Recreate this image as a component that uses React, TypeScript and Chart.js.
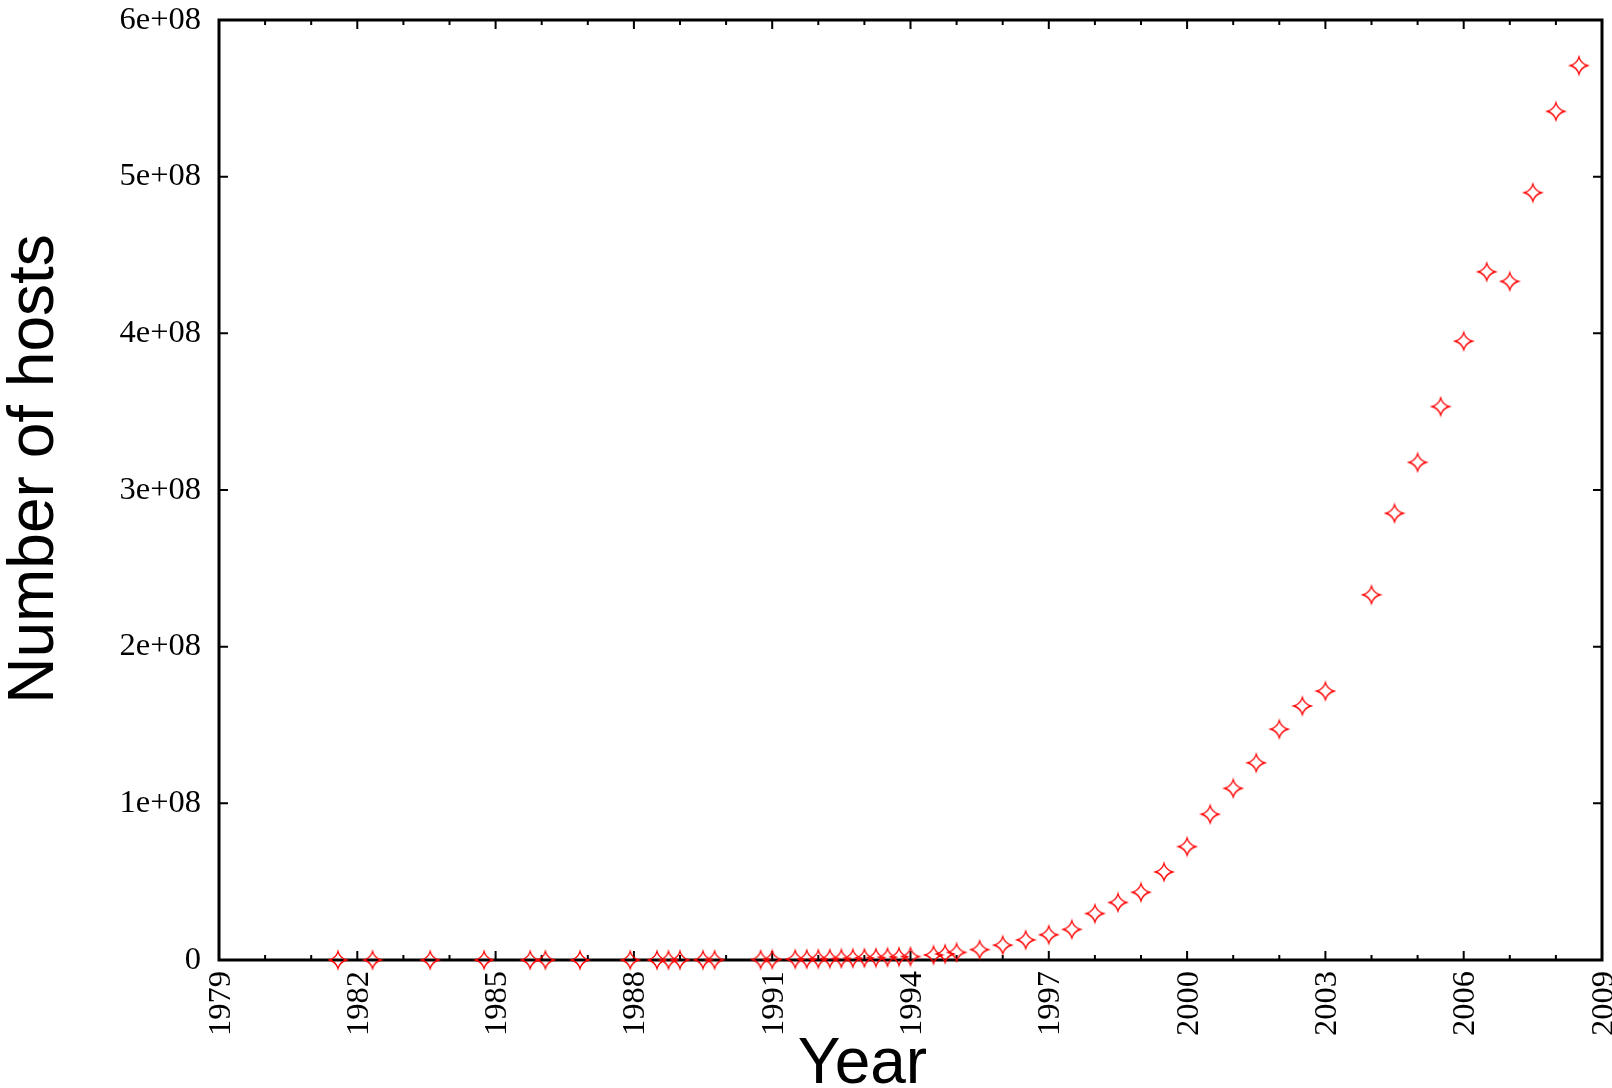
import React, { useEffect, useRef } from "react";
import { Chart, registerables } from "chart.js";

Chart.register(...registerables);

// Survey dates as decimal years (Jan = .0, Jul = .5)
const years: number[] = [
  1981.58, 1982.33, 1983.58, 1984.75, 1985.75, 1986.08, 1986.83, 1987.92,
  1988.5, 1988.75, 1989.0, 1989.5, 1989.75, 1990.75, 1991.0,
  1991.5, 1991.75, 1992.0, 1992.25, 1992.5, 1992.75, 1993.0, 1993.25,
  1993.5, 1993.75, 1994.0, 1994.5, 1994.75, 1995.0, 1995.5,
  1996.0, 1996.5, 1997.0, 1997.5, 1998.0, 1998.5, 1999.0, 1999.5,
  2000.0, 2000.5, 2001.0, 2001.5, 2002.0, 2002.5, 2003.0,
  2004.0, 2004.5, 2005.0, 2005.5, 2006.0, 2006.5, 2007.0, 2007.5,
  2008.0, 2008.5,
];

const hosts: number[] = [
  213, 235, 562, 1024, 1961, 2308, 5089, 28174,
  33000, 56000, 80000, 130000, 159000, 313000, 376000,
  535000, 617000, 727000, 890000, 992000, 1136000, 1313000, 1486000,
  1776000, 2056000, 2217000, 3212000, 3864000, 4852000, 6642000,
  9472000, 12881000, 16146000, 19540000, 29670000, 36739000, 43230000, 56218000,
  72398092, 93047785, 109574429, 125888197, 147344723, 162128493, 171638297,
  233101481, 285139107, 317646084, 353284187, 394991609, 439286364, 433193199, 489774269,
  541677360, 570937778,
];

const xMin = 1979;
const xMax = 2009;
const xStep = 3;
const yMin = 0;
const yMax = 6e8;
const yStep = 1e8;

const xTitle = "Year";
const yTitle = "Number of hosts";

function makeMarker(): HTMLCanvasElement {
  const size = 22;
  const c = document.createElement("canvas");
  c.width = size;
  c.height = size;
  const ctx = c.getContext("2d")!;
  const r = 8.6;
  const k = 0.22 * r;
  ctx.translate(size / 2, size / 2);
  ctx.beginPath();
  ctx.moveTo(0, -r);
  ctx.quadraticCurveTo(k, -k, r, 0);
  ctx.quadraticCurveTo(k, k, 0, r);
  ctx.quadraticCurveTo(-k, k, -r, 0);
  ctx.quadraticCurveTo(-k, -k, 0, -r);
  ctx.closePath();
  ctx.strokeStyle = "#ff0000";
  ctx.lineWidth = 1.3;
  ctx.stroke();
  return c;
}

const framePlugin = {
  id: "gnuFrame",
  beforeDatasetsDraw(chart: any) {
    const { ctx, chartArea, scales } = chart;
    const { left, right, top, bottom } = chartArea;
    const xs = scales.x;
    const ys = scales.y;
    ctx.save();
    ctx.strokeStyle = "#000";
    ctx.lineWidth = 2;
    ctx.beginPath();
    for (let yr = xMin; yr <= xMax; yr++) {
      const px = xs.getPixelForValue(yr);
      const len = (yr - xMin) % xStep === 0 ? 9 : 5;
      ctx.moveTo(px, bottom);
      ctx.lineTo(px, bottom - len);
      ctx.moveTo(px, top);
      ctx.lineTo(px, top + len);
    }
    for (let v = yMin; v <= yMax; v += yStep) {
      const py = ys.getPixelForValue(v);
      ctx.moveTo(left, py);
      ctx.lineTo(left + 9, py);
      ctx.moveTo(right, py);
      ctx.lineTo(right - 9, py);
    }
    ctx.stroke();
    ctx.lineWidth = 3;
    ctx.strokeRect(left, top, right - left, bottom - top);
    ctx.restore();
  },
  afterDraw(chart: any) {
    const { ctx, chartArea } = chart;
    const { left, right, top, bottom } = chartArea;
    ctx.save();
    ctx.fillStyle = "#000";
    ctx.font = '64px "Liberation Sans", Arial, sans-serif';
    ctx.textAlign = "center";
    ctx.textBaseline = "alphabetic";
    ctx.fillText(xTitle, (left + right) / 2 - 48, 1083);
    ctx.translate(53, (top + bottom) / 2 - 21);
    ctx.rotate(-Math.PI / 2);
    ctx.fillText(yTitle, 0, 0);
    ctx.restore();
  },
};

export default function App() {
  const ref = useRef<HTMLCanvasElement | null>(null);

  useEffect(() => {
    document.body.style.margin = "0";
    const canvas = ref.current!;
    const marker = makeMarker();
    const tickFont = { family: '"Liberation Serif", "Times New Roman", serif', size: 32.5 };
    const chart = new Chart(canvas, {
      type: "scatter",
      data: {
        datasets: [
          {
            label: "hosts",
            data: years.map((x, i) => ({ x, y: hosts[i] })),
            pointStyle: marker as any,
            pointRadius: 9,
            borderColor: "#ff0000",
            backgroundColor: "rgba(0,0,0,0)",
            clip: false as any,
          },
        ],
      },
      options: {
        responsive: false,
        devicePixelRatio: 1,
        animation: false,
        layout: { padding: { top: 20, right: 10, left: 0, bottom: 0 } },
        plugins: {
          legend: { display: false },
          tooltip: { enabled: false },
          title: { display: false },
        },
        scales: {
          x: {
            type: "linear",
            min: xMin,
            max: xMax,
            grid: { display: false, drawTicks: false },
            border: { display: false },
            ticks: {
              stepSize: xStep,
              autoSkip: false,
              minRotation: 90,
              maxRotation: 90,
              padding: 11,
              labelOffset: 2,
              color: "#000",
              font: tickFont,
              callback: (v: any) => String(v),
            },
            afterFit: (s: any) => {
              s.height = 128;
              s.paddingLeft = 0;
              s.paddingRight = 0;
            },
          },
          y: {
            type: "linear",
            min: yMin,
            max: yMax,
            grid: { display: false, drawTicks: false },
            border: { display: false },
            ticks: {
              stepSize: yStep,
              padding: 18,
              color: "#000",
              font: tickFont,
              callback: (v: any) => (v === 0 ? "0" : `${Math.round(v / 1e8)}e+08`),
            },
            afterFit: (s: any) => {
              s.width = 219;
              s.paddingTop = 0;
              s.paddingBottom = 0;
            },
          },
        },
      },
      plugins: [framePlugin],
    });
    return () => chart.destroy();
  }, []);

  return (
    <div style={{ position: "absolute", left: 0, top: 0, width: 1612, height: 1088, background: "#fff" }}>
      <canvas ref={ref} width={1612} height={1088} style={{ display: "block" }} />
    </div>
  );
}
